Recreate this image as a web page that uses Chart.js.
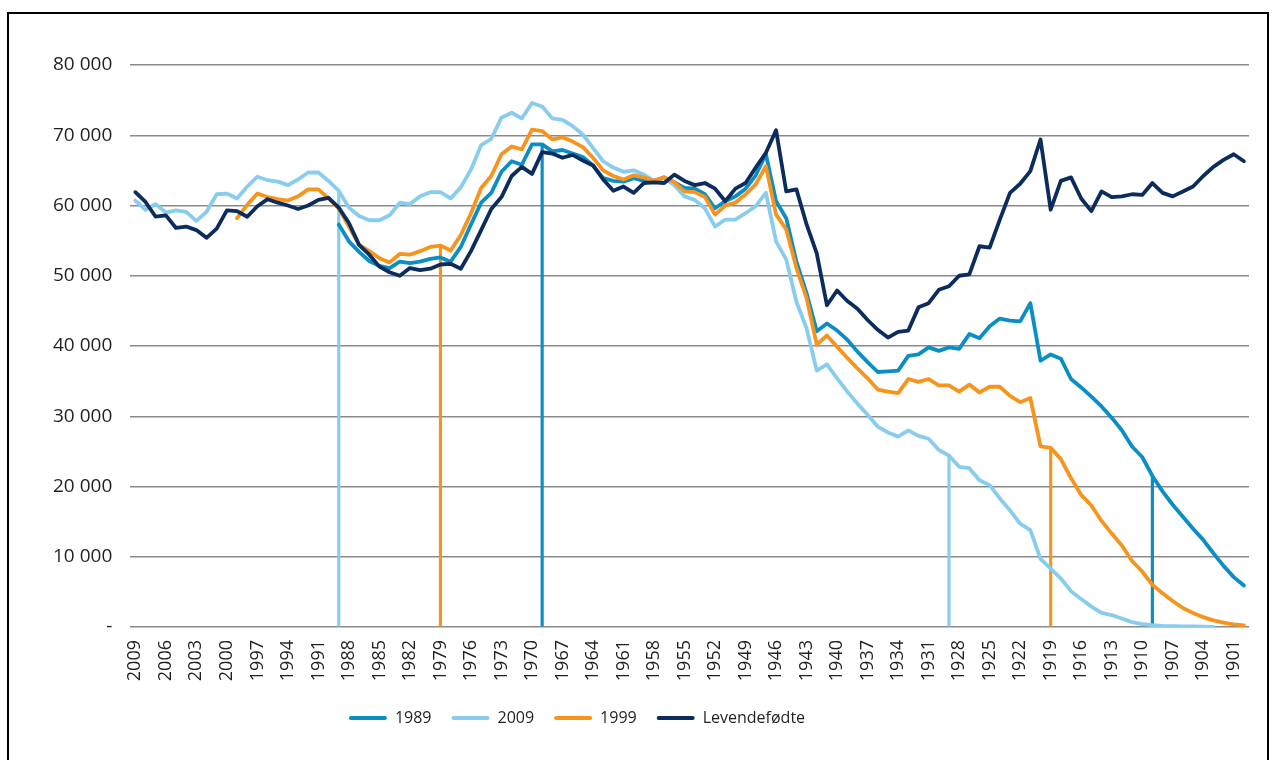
<!DOCTYPE html>
<html>
<head>
<meta charset="utf-8">
<script src="https://cdn.jsdelivr.net/npm/chart.js@4.4.1/dist/chart.umd.min.js"></script>
<style>
    html, body { margin: 0; padding: 0; background: #ffffff; overflow: hidden; }
    #frame {
        position: absolute; left: 7px; top: 12px;
        width: 1258px; height: 800px;
        border: 2px solid #000000;
    }
    #wrap { position: absolute; left: 0; top: 0; width: 1272px; height: 760px; }
</style>
</head>
<body>
<div id="frame"></div>
<div id="wrap"><canvas id="birthChart"></canvas></div>
<script>
/* ===========================================
   DATA (index 0 = 2009, last = 1900)
=========================================== */

const years = [];
for (let y = 2009; y >= 1900; y--) years.push(String(y));

const yTicks = [0, 10000, 20000, 30000, 40000, 50000, 60000, 70000, 80000];

// Population by birth year, 1989
const pop1989 = [
    null, null, null, null, null, null, null, null, null, null,
    null, null, null, null, null, null, null, null, null, null,
    57300, 54900, 53400, 52100, 51400, 51100, 52000, 51800, 52000, 52400,
    52600, 52000, 54100, 57300, 60400, 61800, 64800, 66300, 65800, 68700,
    68700, 67700, 67900, 67400, 66900, 65700, 63900, 63500, 63400, 63900,
    63500, 63500, 64000, 63300, 62500, 62400, 61600, 59600, 60600, 61300,
    62400, 64300, 67300, 60600, 58200, 52000, 47500, 42100, 43200, 42200,
    40900, 39200, 37700, 36300, 36400, 36500, 38600, 38800, 39800, 39300,
    39800, 39600, 41700, 41100, 42800, 43900, 43600, 43500, 46100, 37900,
    38800, 38200, 35300, 34100, 32800, 31400, 29800, 28000, 25700, 24200,
    21500, 19300, 17400, 15700, 14000, 12400, 10500, 8700, 7100, 5900
];

// Population by birth year, 2009
const pop2009 = [
    60700, 59400, 60200, 59000, 59300, 59100, 57800, 59100, 61600, 61700,
    61000, 62700, 64100, 63600, 63400, 62900, 63700, 64700, 64700, 63500,
    62100, 59700, 58500, 57900, 57900, 58600, 60400, 60200, 61300, 61900,
    61900, 61000, 62600, 65100, 68600, 69500, 72500, 73200, 72400, 74600,
    74100, 72400, 72200, 71300, 70100, 68200, 66300, 65400, 64800, 65000,
    64400, 63500, 63900, 62900, 61300, 60800, 59600, 57000, 58000, 58000,
    58900, 59900, 61800, 54900, 52300, 46300, 42500, 36500, 37400, 35400,
    33500, 31800, 30200, 28500, 27700, 27100, 28000, 27200, 26800, 25200,
    24400, 22800, 22600, 20900, 20200, 18300, 16600, 14700, 13800, 9700,
    8300, 6900, 5100, 4000, 2900, 2000, 1700, 1200, 700, 400,
    250, 150, 120, 100, 80, 60, 30, null, null, null
];

// Population by birth year, 1999
const pop1999 = [
    null, null, null, null, null, null, null, null, null, null,
    58200, 60100, 61700, 61200, 60900, 60700, 61300, 62300, 62300, 61000,
    59600, 57000, 54400, 53500, 52500, 51900, 53100, 53000, 53500, 54100,
    54300, 53600, 55800, 58900, 62500, 64200, 67300, 68400, 68000, 70800,
    70600, 69400, 69700, 69100, 68300, 66800, 65000, 64200, 63700, 64300,
    64000, 63500, 64000, 63300, 62000, 61900, 61200, 58700, 60000, 60400,
    61600, 63000, 65600, 58700, 56600, 51100, 46800, 40200, 41500, 39900,
    38300, 36800, 35400, 33800, 33500, 33300, 35300, 34900, 35300, 34400,
    34400, 33500, 34500, 33400, 34200, 34200, 32900, 32000, 32600, 25700,
    25500, 23900, 21200, 18800, 17300, 15100, 13300, 11600, 9400, 7900,
    6000, 4800, 3700, 2700, 2000, 1400, 950, 620, 380, 240
];

// Live births per year
const levendefodte = [
    61900, 60500, 58400, 58600, 56800, 57000, 56500, 55400, 56700, 59300,
    59200, 58400, 59900, 60900, 60400, 60000, 59500, 60000, 60800, 61100,
    59700, 57500, 54400, 53000, 51300, 50500, 50000, 51100, 50800, 51000,
    51600, 51700, 51000, 53500, 56500, 59500, 61200, 64200, 65500, 64500,
    67600, 67400, 66800, 67200, 66400, 65700, 63700, 62100, 62700, 61800,
    63200, 63300, 63200, 64400, 63500, 62900, 63200, 62400, 60600, 62400,
    63200, 65400, 67500, 70700, 62000, 62300, 57300, 53200, 45800, 47900,
    46400, 45300, 43700, 42300, 41200, 42000, 42200, 45500, 46100, 48000,
    48500, 50000, 50200, 54200, 54000, 58000, 61800, 63100, 64900, 69400,
    59400, 63500, 64000, 61000, 59200, 62000, 61200, 61300, 61600, 61500,
    63200, 61800, 61300, 62000, 62700, 64200, 65500, 66500, 67300, 66300
];

// Drop lines at age 20 and 80 for each census year
const marks1989 = ["1969", "1909"];
const marks2009 = ["1989", "1929"];
const marks1999 = ["1979", "1919"];

/* ===========================================
   COLOURS
=========================================== */

const c1989 = "#0b8ec4";
const c2009 = "#88cdee";
const c1999 = "#f7941d";
const cBirths = "#0b2c5c";

/* ===========================================
   DROP LINE BARS (taken from the series)
=========================================== */

const markValues = years.map(() => null);
const markColors = years.map(() => "rgba(0,0,0,0)");

[[marks1989, pop1989, c1989], [marks2009, pop2009, c2009], [marks1999, pop1999, c1999]]
    .forEach(([marks, series, color]) => {
        marks.forEach(year => {
            const i = years.indexOf(year);
            markValues[i] = series[i];
            markColors[i] = color;
        });
    });

/* ===========================================
   CHART
=========================================== */

function lineSet(label, data, color, order) {
    return {
        type: "line",
        label: label,
        data: data,
        borderColor: color,
        backgroundColor: color,
        borderWidth: 3.8,
        pointRadius: 0,
        borderJoinStyle: "round",
        borderCapStyle: "round",
        tension: 0,
        order: order
    };
}

function spaced(v) {
    return v === 0 ? "-" : String(v).replace(/\B(?=(\d{3})+(?!\d))/g, " ");
}

// legend sits left of centre in the original
const legendShift = {
    id: "legendShift",
    afterLayout(chart) {
        chart.legend.left -= 130;
    }
};

const birthChart = new Chart(
    document.getElementById("birthChart"),
    {
        type: "line",
        data: {
            labels: years,
            datasets: [
                lineSet("1989", pop1989, c1989, 4),
                lineSet("2009", pop2009, c2009, 3),
                lineSet("1999", pop1999, c1999, 2),
                lineSet("Levendefødte", levendefodte, cBirths, 1),
                {
                    type: "bar",
                    label: "",
                    data: markValues,
                    backgroundColor: markColors,
                    barThickness: 2.5,
                    order: 5
                }
            ]
        },
        plugins: [legendShift],
        options: {
            responsive: true,
            maintainAspectRatio: false,
            animation: false,
            layout: {
                padding: { left: 35, right: 23, top: 65, bottom: 24 }
            },
            plugins: {
                tooltip: { enabled: false },
                legend: {
                    position: "bottom",
                    labels: {
                        color: "#231f20",
                        font: { family: "Open Sans", size: 16 },
                        boxWidth: 38,
                        boxHeight: 4,
                        padding: 20,
                        useBorderRadius: true,
                        borderRadius: 2,
                        generateLabels: chart =>
                            Chart.defaults.plugins.legend.labels.generateLabels(chart)
                                .filter(item => item.text !== "")
                                .map(item => Object.assign(item, {
                                    lineWidth: 0,
                                    fillStyle: item.strokeStyle
                                })),
                        sort: (a, b) => a.datasetIndex - b.datasetIndex
                    }
                }
            },
            scales: {
                x: {
                    offset: true,
                    grid: { display: false },
                    border: { display: false },
                    afterFit: axis => { axis.height = 63; },
                    ticks: {
                        autoSkip: false,
                        maxRotation: 90,
                        minRotation: 90,
                        padding: 5,
                        color: "#231f20",
                        font: { family: "Open Sans", size: 18 },
                        callback: function (value, index) {
                            return index % 3 === 0 ? years[index] : "";
                        }
                    }
                },
                y: {
                    min: yTicks[0],
                    max: yTicks[yTicks.length - 1],
                    afterBuildTicks: axis => {
                        axis.ticks = yTicks.map(v => ({ value: v }));
                    },
                    grid: {
                        color: "#8a8a8a",
                        lineWidth: 1.5,
                        drawTicks: false
                    },
                    border: { display: false },
                    ticks: {
                        padding: 18,
                        color: "#231f20",
                        font: { family: "Open Sans", size: 19 },
                        callback: v => spaced(v)
                    }
                }
            }
        }
    }
);
</script>
</body>
</html>
